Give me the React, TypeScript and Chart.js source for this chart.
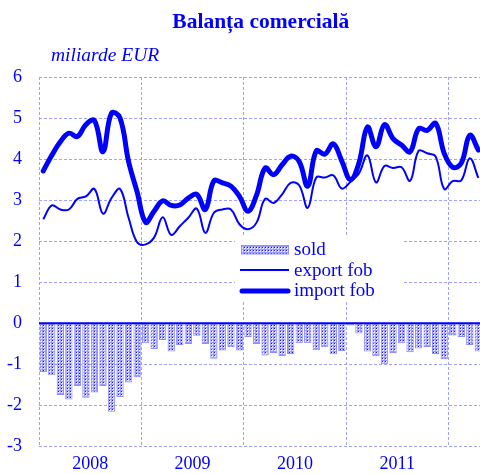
import React, { useEffect, useRef } from "react";
import { Chart, registerables } from "chart.js";
Chart.register(...registerables);

const years = ["2008", "2009", "2010", "2011", "2012"];
const monthsPerYear = ["01", "02", "03", "04", "05", "06", "07", "08", "09", "10", "11", "12"];

const sold = [
  -1.19, -1.27, -1.75, -1.86, -1.53, -1.82, -1.69, -1.53, -2.16, -1.80, -1.45, -1.32,
  -0.49, -0.63, -0.41, -0.69, -0.53, -0.51, -0.31, -0.51, -0.87, -0.67, -0.59, -0.67,
  -0.34, -0.51, -0.79, -0.73, -0.80, -0.75, -0.49, -0.49, -0.66, -0.59, -0.76, -0.68,
  -0.06, -0.25, -0.69, -0.81, -1.00, -0.73, -0.49, -0.71, -0.62, -0.58, -0.75, -0.88,
  -0.30, -0.34, -0.53, -0.69,
];
const exportFob = [
  2.53, 2.87, 2.77, 2.77, 3.03, 3.09, 3.27, 2.67, 3.05, 3.27, 2.57, 1.97,
  1.92, 2.09, 2.58, 2.15, 2.36, 2.57, 2.79, 2.20, 2.69, 2.77, 2.77, 2.41,
  2.29, 2.45, 3.03, 2.93, 3.14, 3.42, 3.36, 2.81, 3.55, 3.55, 3.60, 3.28,
  3.44, 3.65, 4.09, 3.43, 3.83, 3.78, 3.80, 3.47, 4.20, 4.14, 4.06, 3.27,
  3.46, 3.48, 4.02, 3.54,
];
const importFob = [
  3.71, 4.09, 4.42, 4.63, 4.55, 4.84, 4.94, 4.18, 5.12, 5.00, 3.94, 3.20,
  2.46, 2.73, 2.98, 2.87, 2.88, 3.05, 3.14, 2.77, 3.47, 3.42, 3.34, 3.09,
  2.73, 3.12, 3.78, 3.62, 3.86, 4.07, 3.94, 3.34, 4.20, 4.12, 4.37, 3.95,
  3.50, 3.90, 4.78, 4.30, 4.84, 4.50, 4.34, 4.18, 4.74, 4.70, 4.87, 4.14,
  3.80, 3.90, 4.58, 4.22,
];

const categories: string[] = [];
years.forEach((y) => monthsPerYear.forEach((m) => categories.push(`${y}-${m}`)));
categories.length = sold.length;

const TITLE = "Balanța comercială";
const UNIT = "miliarde EUR";
const LEGEND = ["sold", "export fob", "import fob"];

const BLUE = "#0000ff";
const GRID = "#a0a0ff";
const FONT = "'Liberation Serif', 'Times New Roman', serif";

function makePattern(): CanvasPattern | string {
  const c = document.createElement("canvas");
  c.width = 3;
  c.height = 3;
  const g = c.getContext("2d");
  if (!g) return "#8080ff";
  g.fillStyle = "#e6e6ff";
  g.fillRect(0, 0, 3, 3);
  g.fillStyle = "#9a9aff";
  g.fillRect(0, 0, 3, 1);
  g.fillRect(0, 0, 1, 3);
  g.fillStyle = "#1010ff";
  g.fillRect(1, 1, 1, 1);
  const p = g.createPattern(c, "repeat");
  return p || "#8080ff";
}

export default function App() {
  const ref = useRef<HTMLCanvasElement>(null);

  useEffect(() => {
    if (!ref.current) return;
    const pattern = makePattern();

    const overlay = {
      id: "overlay",
      afterDatasetsDraw(chart: any) {
        const { ctx, chartArea, scales } = chart;
        const y0 = scales.y.getPixelForValue(0);
        ctx.save();
        ctx.strokeStyle = BLUE;
        ctx.lineWidth = 2;
        ctx.beginPath();
        ctx.moveTo(chartArea.left, y0);
        ctx.lineTo(chartArea.right, y0);
        ctx.stroke();
        ctx.restore();
      },
      afterDraw(chart: any) {
        const { ctx, chartArea } = chart;
        ctx.save();
        ctx.fillStyle = BLUE;
        ctx.font = `bold 21.5px ${FONT}`;
        ctx.textAlign = "center";
        ctx.textBaseline = "alphabetic";
        ctx.fillText(TITLE, (chartArea.left + chartArea.right) / 2, 28);
        ctx.font = `italic 19.5px ${FONT}`;
        ctx.textAlign = "left";
        ctx.fillText(UNIT, 51, 61);
        // legend
        ctx.fillStyle = "#ffffff";
        ctx.fillRect(235, 237, 168, 64);
        ctx.fillStyle = pattern as any;
        ctx.fillRect(241.5, 245, 47, 9);
        ctx.strokeStyle = "#9090ff";
        ctx.lineWidth = 1;
        ctx.strokeRect(241.5, 245.5, 47, 8.5);
        ctx.strokeStyle = BLUE;
        ctx.lineWidth = 2;
        ctx.beginPath();
        ctx.moveTo(240, 270);
        ctx.lineTo(289, 270);
        ctx.stroke();
        ctx.lineWidth = 5;
        ctx.lineCap = "round";
        ctx.beginPath();
        ctx.moveTo(242, 291);
        ctx.lineTo(288, 291);
        ctx.stroke();
        ctx.fillStyle = BLUE;
        ctx.font = `19px ${FONT}`;
        ctx.textBaseline = "middle";
        ctx.fillText(LEGEND[0], 294, 250);
        ctx.fillText(LEGEND[1], 294, 271);
        ctx.fillText(LEGEND[2], 294, 291);
        ctx.restore();
      },
    };

    const chart = new Chart(ref.current, {
      type: "bar",
      data: {
        labels: categories,
        datasets: [
          {
            type: "line",
            label: LEGEND[2],
            data: importFob,
            borderColor: BLUE,
            borderWidth: 5,
            pointRadius: 0,
            tension: 0.4,
            fill: false,
            borderCapStyle: "round",
            borderJoinStyle: "round",
            order: 0,
          } as any,
          {
            type: "line",
            label: LEGEND[1],
            data: exportFob,
            borderColor: BLUE,
            borderWidth: 2,
            pointRadius: 0,
            tension: 0.4,
            fill: false,
            order: 1,
          } as any,
          {
            type: "bar",
            label: LEGEND[0],
            data: sold,
            backgroundColor: pattern as any,
            borderColor: "#8c8cff",
            borderWidth: 1,
            barPercentage: 0.86,
            categoryPercentage: 1,
            order: 2,
          } as any,
        ],
      },
      options: {
        animation: false,
        responsive: false,
        maintainAspectRatio: false,
        layout: { padding: { left: 0, right: 7.4, top: 77, bottom: 0 } },
        plugins: {
          legend: { display: false },
          title: { display: false },
          tooltip: { enabled: false },
        },
        scales: {
          x: {
            type: "category",
            offset: true,
            grid: {
              offset: true,
              drawTicks: false,
              lineWidth: 1,
              color: (c: any) => (c.index % 12 === 0 ? GRID : "rgba(0,0,0,0)"),
            },
            border: { display: false, dash: [3, 2] },
            ticks: {
              autoSkip: false,
              maxRotation: 0,
              minRotation: 0,
              labelOffset: -4.27,
              padding: 7,
              color: BLUE,
              font: { family: FONT, size: 18 },
              callback: (_v: any, i: number) => (i % 12 === 6 ? years[Math.floor(i / 12)] : ""),
            },
            afterFit: (s: any) => {
              s.height = 25;
            },
          },
          y: {
            min: -3,
            max: 6,
            ticks: {
              stepSize: 1,
              padding: 17,
              color: BLUE,
              font: { family: FONT, size: 18 },
            },
            grid: {
              drawTicks: false,
              lineWidth: 1,
              color: (c: any) => (c.tick && c.tick.value === 0 ? "rgba(0,0,0,0)" : GRID),
            },
            border: { display: false, dash: [3, 2] },
            afterFit: (s: any) => {
              s.width = 39;
            },
          },
        },
      } as any,
      plugins: [overlay],
    });
    return () => chart.destroy();
  }, []);

  return (
    <div style={{ position: "absolute", left: 0, top: 0, width: 490, height: 474, background: "#fff" }}>
      <canvas ref={ref} width={490} height={474} style={{ width: 490, height: 474 }} />
    </div>
  );
}
